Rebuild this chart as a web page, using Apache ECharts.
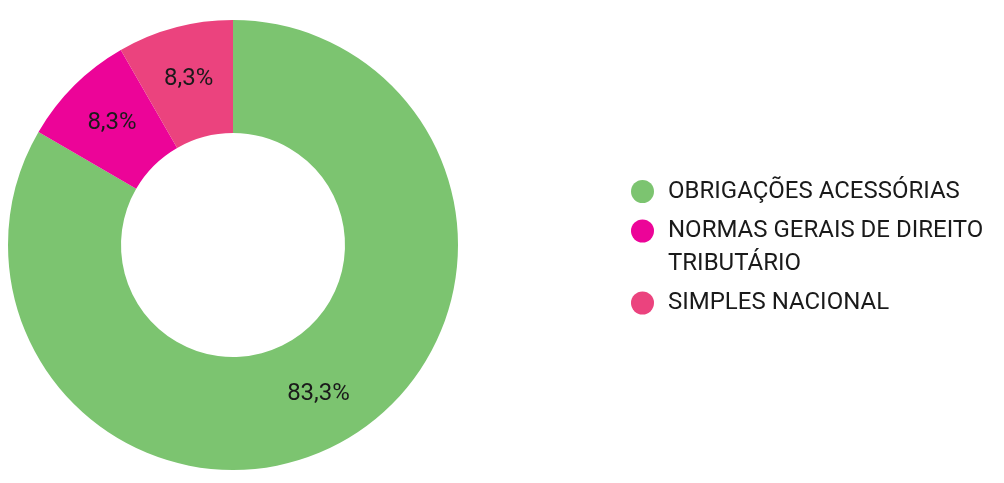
<!DOCTYPE html>
<html>
<head>
<meta charset="utf-8">
<script src="https://cdn.jsdelivr.net/npm/echarts@6/dist/echarts.min.js"></script>
<style>
  html, body { margin: 0; padding: 0; background: #ffffff; }
  #chart { width: 1004px; height: 483px; }
</style>
</head>
<body>
<div id="chart"></div>
<script>
var categories = ['OBRIGAÇÕES ACESSÓRIAS', 'NORMAS GERAIS DE DIREITO TRIBUTÁRIO', 'SIMPLES NACIONAL'];
// leading empty line keeps the icon level with the first text line
var legendLabels = ['OBRIGAÇÕES ACESSÓRIAS', '\nNORMAS GERAIS DE DIREITO\nTRIBUTÁRIO', 'SIMPLES NACIONAL'];
var values = [83.3, 8.3, 8.3];
var colors = ['#7CC470', '#EC0498', '#EB437E'];

var FONT = 'Roboto, "Noto Sans", sans-serif';
var TEXT = '#1a1a1a';

var chart = echarts.init(document.getElementById('chart'), null, { renderer: 'canvas' });

function makeLegend(i, top) {
  return {
    show: true,
    orient: 'vertical',
    left: 631,
    top: top,
    padding: 0,
    itemWidth: 23,
    itemHeight: 23,
    icon: 'circle',
    selectedMode: true,
    data: [categories[i]],
    formatter: function (name) { return legendLabels[categories.indexOf(name)]; },
    textStyle: {
      fontFamily: FONT,
      fontSize: 24,
      lineHeight: 33,
      color: TEXT,
      padding: [0, 0, 0, 9]
    }
  };
}

var option = {
  backgroundColor: '#ffffff',
  animation: false,
  color: colors,
  legend: [
    makeLegend(0, 175),
    makeLegend(1, 181.5),
    makeLegend(2, 286.5)
  ],
  series: [{
    type: 'pie',
    center: [233, 245],
    radius: [112, 225],
    startAngle: 90,
    clockwise: true,
    avoidLabelOverlap: false,
    label: {
      show: true,
      position: 'inside',
      fontFamily: FONT,
      fontSize: 24,
      color: TEXT,
      formatter: function (p) { return p.value.toFixed(1).replace('.', ',') + '%'; }
    },
    labelLine: { show: false },
    itemStyle: { borderWidth: 0 },
    emphasis: { scale: false },
    data: categories.map(function (c, i) {
      return { name: c, value: values[i], itemStyle: { color: colors[i] } };
    })
  }]
};

chart.setOption(option);
</script>
</body>
</html>
